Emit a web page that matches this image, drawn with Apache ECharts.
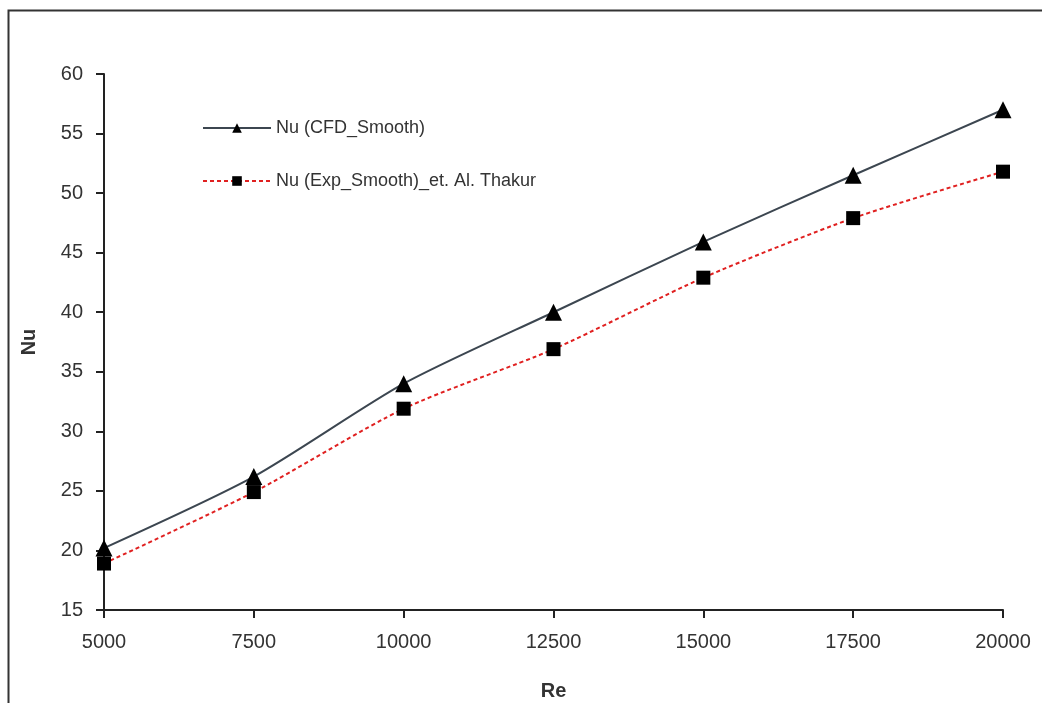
<!DOCTYPE html>
<html><head><meta charset="utf-8">
<script src="https://cdn.jsdelivr.net/npm/echarts@6/dist/echarts.min.js"></script>
<style>html,body{margin:0;padding:0;background:#fff}#c{width:1042px;height:703px}</style>
</head><body><div id="c"></div>
<script>
const reValues = [5000, 7500, 10000, 12500, 15000, 17500, 20000];
const nuCFD = [20.2, 26.2, 34.0, 40.0, 45.9, 51.5, 57.0];
const nuExp = [18.9, 24.9, 31.9, 36.9, 42.9, 47.9, 51.8];
const nameCFD = 'Nu (CFD_Smooth)';
const nameExp = 'Nu (Exp_Smooth)_et. Al. Thakur';

const chart = echarts.init(document.getElementById('c'));
const font = '"Liberation Sans", "Noto Sans", sans-serif';
chart.setOption({
  animation: false,
  backgroundColor: '#fff',
  textStyle: { fontFamily: font },
  graphic: [{
    type: 'rect', shape: { x: 8.5, y: 10.5, width: 1100, height: 800 },
    style: { fill: 'none', stroke: '#333', lineWidth: 2 }, silent: true
  }],
  grid: { left: 104, right: 39, top: 74, bottom: 93, containLabel: false, outerBoundsMode: 'none' },
  legend: {
    orient: 'vertical', left: 197, top: 114, itemGap: 35,
    itemWidth: 68, itemHeight: 12,
    textStyle: { fontSize: 18, color: '#333', fontFamily: font },
    data: [nameCFD, nameExp]
  },
  xAxis: {
    type: 'value', min: 5000, max: 20000, interval: 2500,
    name: 'Re', nameLocation: 'middle', nameGap: 71,
    nameTextStyle: { fontSize: 20, fontWeight: 'bold', color: '#333' },
    axisLine: { lineStyle: { color: '#222', width: 2 } },
    axisTick: { show: true, length: 8, lineStyle: { color: '#222', width: 2 } },
    axisLabel: { fontSize: 20, color: '#333', margin: 22, formatter: v => String(v) },
    splitLine: { show: false }
  },
  yAxis: {
    type: 'value', min: 15, max: 60, interval: 5,
    name: 'Nu', nameLocation: 'middle', nameGap: 65, nameRotate: 90,
    nameTextStyle: { fontSize: 20, fontWeight: 'bold', color: '#333' },
    axisLine: { show: true, lineStyle: { color: '#222', width: 2 } },
    axisTick: { show: true, length: 8, lineStyle: { color: '#222', width: 2 } },
    axisLabel: { fontSize: 20, color: '#333', margin: 21 },
    splitLine: { show: false }
  },
  series: [
    {
      name: nameCFD, type: 'line', smooth: 0.25,
      data: reValues.map((x, i) => [x, nuCFD[i]]),
      symbol: 'triangle', symbolSize: 17,
      itemStyle: { color: '#000' },
      lineStyle: { color: '#3c4650', width: 2, type: 'solid' },
      z: 3
    },
    {
      name: nameExp, type: 'line', smooth: 0.25,
      data: reValues.map((x, i) => [x, nuExp[i]]),
      symbol: 'rect', symbolSize: 14,
      itemStyle: { color: '#000' },
      lineStyle: { color: '#e02020', width: 2, type: [4, 3] },
      z: 2
    }
  ]
});
</script></body></html>
